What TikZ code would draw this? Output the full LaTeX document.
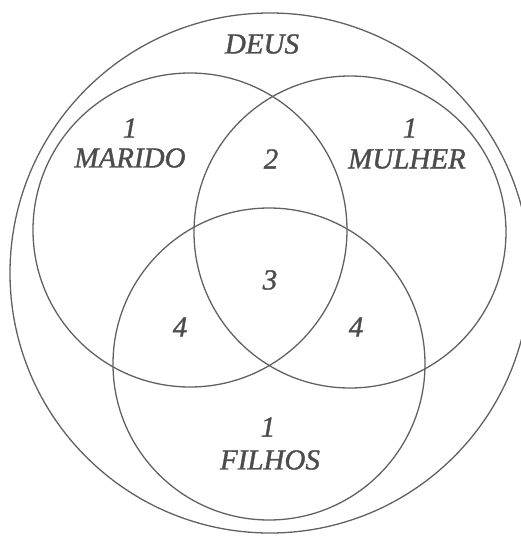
\documentclass[tikz,border=0pt]{standalone}
\usepackage{fontspec}
\setmainfont{Liberation Serif}
\newfontfamily\lblfont{Liberation Serif Italic}[FakeBold=1.2]
\begin{document}
\begin{tikzpicture}[x=1pt,y=-1pt,
  ring/.style={circle,draw=black!62,line width=1.3pt,inner sep=0pt,outer sep=0pt},
  lbl/.style={text=black!70,font=\fontsize{29}{32}\lblfont,inner sep=0pt,align=center}]
\useasboundingbox (0,0) rectangle (521,536);
\clip (0,0) rectangle (521,536);
\node[ring,minimum size=520pt] (deus) at (270,273) {};
\node[ring,minimum size=314pt] (marido) at (190,230) {};
\node[ring,minimum size=312pt] (mulher) at (350,232) {};
\node[ring,minimum size=312pt] (filhos) at (269,364) {};
\node[lbl] (tdeus) at (262,44) {DEUS};
\node[lbl] (n1a) at (130,128) {1};
\node[lbl] (tmarido) at (130,158) {MARIDO};
\node[lbl] (n2) at (271,159) {2};
\node[lbl] (n1b) at (410,128) {1};
\node[lbl] (tmulher) at (407,159) {MULHER};
\node[lbl] (n3) at (270,280) {3};
\node[lbl] (n4a) at (180,327) {4};
\node[lbl] (n4b) at (356,327) {4};
\node[lbl] (n1c) at (268,427) {1};
\node[lbl] (tfilhos) at (270,460) {FILHOS};
\end{tikzpicture}
\end{document}
